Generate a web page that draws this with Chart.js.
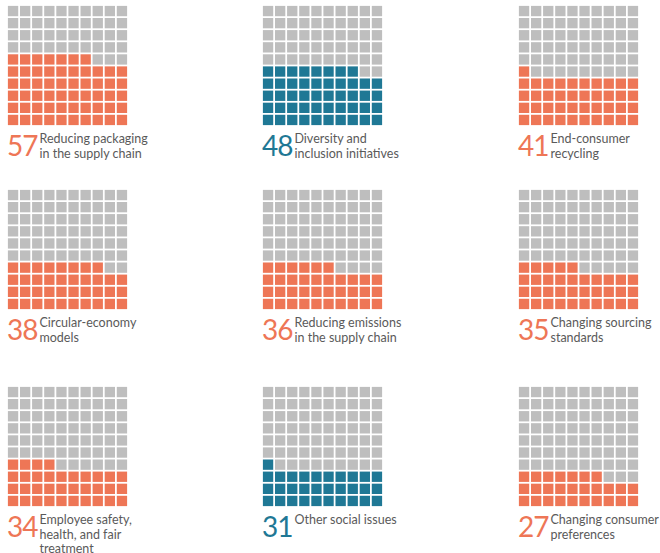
<!DOCTYPE html>
<html>
<head>
<meta charset="utf-8">
<script src="https://cdn.jsdelivr.net/npm/chart.js@4/dist/chart.umd.min.js"></script>
<style>
  body { margin: 0; background: #fff; width: 660px; height: 553px; position: relative; overflow: hidden; font-family: Lato, "Open Sans", sans-serif; }
  .panel { position: absolute; }
  .panel canvas { display: block; }
  .lbl { display: flex; align-items: flex-start; margin-top: 7px; }
  .num { font-size: 28px; line-height: 25px; letter-spacing: -1px; }
  .desc { font-size: 12.5px; line-height: 14.5px; color: #5a5a5a; margin-left: 2px; margin-top: -1px; white-space: nowrap; }
</style>
</head>
<body>
<script>
// values (share of respondents, one waffle of 100 cells each)
const values = [57, 48, 41, 38, 36, 35, 34, 31, 27]
const labels = [
  ["Reducing packaging", "in the supply chain"],
  ["Diversity and", "inclusion initiatives"],
  ["End-consumer", "recycling"],
  ["Circular-economy", "models"],
  ["Reducing emissions", "in the supply chain"],
  ["Changing sourcing", "standards"],
  ["Employee safety,", "health, and fair", "treatment"],
  ["Other social issues"],
  ["Changing consumer", "preferences"]
]
const kinds = ["env", "social", "env", "env", "env", "env", "env", "social", "env"]

const orange = "#EE7656"
const teal = "#1F7895"
const gray = "#BEBEBE"
const colLeft = [7, 262, 518]
const rowTop = [5, 189, 386]
const size = 121

function cells(v, filled) {
  let pts = []
  for (let i = 0; i < 100; i++) {
    let on = i < v
    if (on === filled) pts.push({ x: i % 10, y: Math.floor(i / 10) })
  }
  return pts
}

values.forEach(function(v, k) {
  let color = kinds[k] === "social" ? teal : orange
  let panel = document.createElement("div")
  panel.className = "panel"
  panel.style.left = colLeft[k % 3] + "px"
  panel.style.top = rowTop[Math.floor(k / 3)] + "px"
  let cv = document.createElement("canvas")
  cv.width = size
  cv.height = size
  panel.appendChild(cv)
  let lbl = document.createElement("div")
  lbl.className = "lbl"
  let num = document.createElement("span")
  num.className = "num"
  num.style.color = color
  num.textContent = v
  let desc = document.createElement("div")
  desc.className = "desc"
  desc.innerHTML = labels[k].join("<br>")
  lbl.appendChild(num)
  lbl.appendChild(desc)
  panel.appendChild(lbl)
  document.body.appendChild(panel)

  new Chart(cv, {
    type: "scatter",
    data: {
      datasets: [
        { data: cells(v, true), backgroundColor: color },
        { data: cells(v, false), backgroundColor: gray }
      ]
    },
    options: {
      responsive: false,
      animation: false,
      devicePixelRatio: 1,
      layout: { padding: 0, autoPadding: false },
      elements: { point: { pointStyle: "rect", radius: 7.3, hoverRadius: 7.3, borderWidth: 0, rotation: 0 } },
      plugins: { legend: { display: false }, tooltip: { enabled: false } },
      scales: {
        x: { display: false, min: -0.5, max: 9.5 },
        y: { display: false, min: -0.5, max: 9.5 }
      }
    }
  })
})
</script>
</body>
</html>
